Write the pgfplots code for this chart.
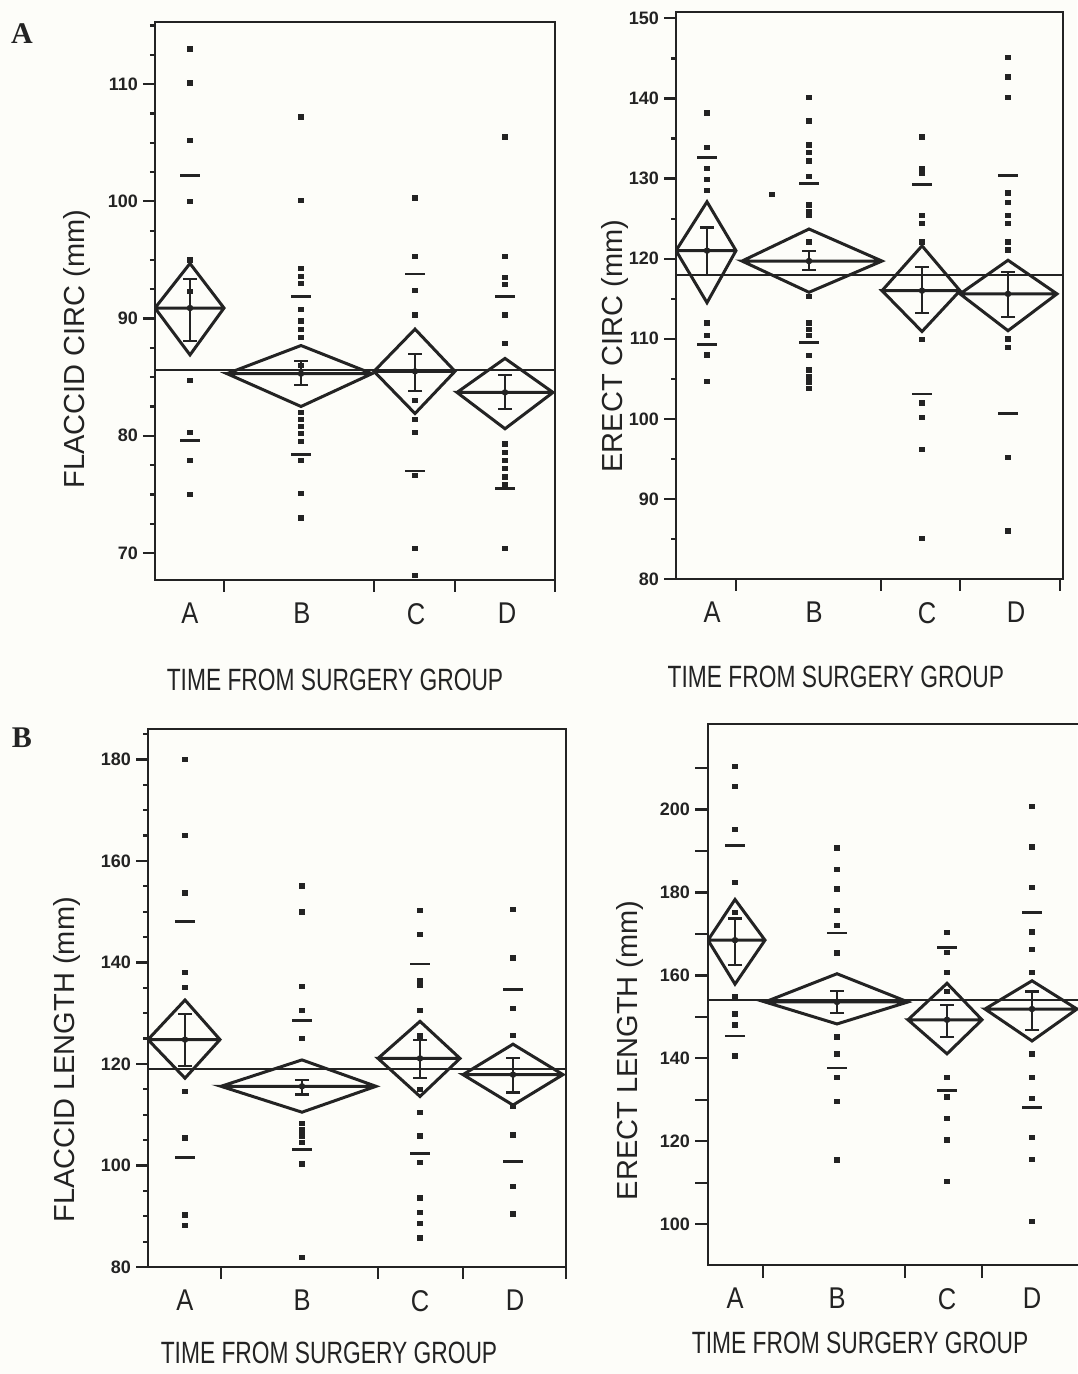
\documentclass[border=0pt]{standalone}
\usepackage{fontspec}
\setmainfont{Liberation Sans}
\newfontfamily\serifbf{Liberation Serif}
\usepackage{graphicx}
\usepackage{pgfplots}
\pgfplotsset{compat=1.18}

\definecolor{ink}{RGB}{35,35,35}
\definecolor{paper}{RGB}{253,253,249}

% one panel = one axis, placed in image pixels (1 px = 0.5pt)
\pgfplotsset{
  panel/.style={
    scale only axis, anchor=south west,
    axis line style={ink, line width=1.4pt},
    tick pos=left, tick align=outside,
    major tick length=6pt, minor tick length=2.5pt,
    tick style={ink, line width=1.1pt},
    yticklabel style={font=\fontsize{9}{9}\selectfont\bfseries, text=ink, xshift=1pt},
    /pgf/number format/assume math mode=true,
    xticklabels={},
    extra x tick style={major tick length=0pt,
      xticklabel style={font=\fontsize{15}{15}\selectfont, text=ink, yshift=-8pt}},
    extra x tick labels={\scalebox{0.85}[1]{A},\scalebox{0.85}[1]{B},\scalebox{0.85}[1]{C},\scalebox{0.85}[1]{D}},
  },
  xlab/.style 2 args={xlabel style={at={(axis description cs:#1,#2)}, anchor=center,
    font=\fontsize{15.4}{15.4}\selectfont, text=ink}},
  ylab/.style 2 args={ylabel style={at={(axis description cs:#1,#2)}, anchor=center, rotate=0,
    font=\fontsize{14.5}{14.5}\selectfont, text=ink}},
  pts/.style={only marks, mark=square*, mark size=1.1pt, ink},
  dia/.style={ink, line width=1.5pt, line join=miter, mark=none},
  gmean/.style={ink, line width=1.1pt, mark=none},
  sd/.style={only marks, mark=-, mark size=4.8pt, mark options={line width=1.4pt}, ink},
  ebar/.style={ink, only marks, mark=*, mark size=1.4pt,
    error bars/.cd, y dir=both, y explicit,
    error bar style={line width=1.1pt, ink},
    error mark options={rotate=90, line width=1.1pt, mark size=3.5pt, ink}},
}
\newcommand{\xlab}{\scalebox{0.74}[1]{TIME FROM SURGERY GROUP}}

\begin{document}
\begin{tikzpicture}
\fill[paper] (0,0) rectangle (538.5pt,687pt);

% ---------------- A: flaccid circumference
\begin{axis}[panel, at={(77.5pt,397pt)}, width=200pt, height=279pt,
  xmin=155, xmax=555, ymin=67.7, ymax=115.3,
  ytick={70,80,90,100,110},
  minor ytick={72.5,75,77.5,82.5,85,87.5,92.5,95,97.5,102.5,105,107.5,112.5,115},
  xtick={224,374,455,555}, extra x ticks={190,302,416,507},
  xlabel={\xlab}, ylabel={FLACCID CIRC (mm)},
  xlab={0.45}{-0.179}, ylab={-0.195}{0.414}]
\addplot[pts] coordinates {
 (190,113.0) (190,110.1) (190,105.2) (190,100.0) (190,95.0) (190,92.3) (190,84.7) (190,80.3) (190,77.9) (190,75.0)
 (301,107.2) (301,100.1) (301,94.3) (301,93.6) (301,93.0) (301,90.8) (301,89.8) (301,89.1) (301,88.4) (301,86.0)
 (301,82.0) (301,81.4) (301,80.8) (301,80.2) (301,79.5) (301,77.9) (301,75.1) (301,73.0)
 (415,100.3) (415,95.3) (415,92.4) (415,90.3) (415,83.0) (415,81.4) (415,80.3) (415,76.6) (415,70.4) (415,68.1)
 (505,105.5) (505,95.3) (505,93.5) (505,92.9) (505,90.3) (505,87.9) (505,79.3) (505,78.6) (505,77.9) (505,77.2)
 (505,76.5) (505,75.8) (505,70.4)};
\addplot[dia] coordinates {(155,90.9) (190,94.7) (224,90.9) (190,86.9) (155,90.9) (224,90.9)};
\addplot[dia] coordinates {(227,85.3) (301,87.7) (372,85.3) (301,82.5) (227,85.3) (372,85.3)};
\addplot[dia] coordinates {(374,85.5) (415,89.1) (455,85.5) (415,81.9) (374,85.5) (455,85.5)};
\addplot[dia] coordinates {(457,83.7) (505,86.6) (553,83.7) (505,80.6) (457,83.7) (553,83.7)};
\addplot[gmean] coordinates {(155,85.6) (555,85.6)};
\addplot[sd] coordinates {(190,102.2) (190,79.6) (301,91.9) (301,78.4) (415,93.8) (415,77.0) (505,91.9) (505,75.5)};
\addplot[ebar] coordinates {
 (190,90.9) += (0,2.5) -= (0,2.8)
 (301,85.3) += (0,1.1) -= (0,1.0)
 (415,85.5) += (0,1.5) -= (0,1.7)
 (505,83.7) += (0,1.5) -= (0,1.4)};
\end{axis}

% ---------------- A: erect circumference
\begin{axis}[panel, at={(338pt,397.5pt)}, width=193.5pt, height=283.5pt,
  xmin=676, xmax=1063, ymin=80, ymax=150.8,
  ytick={80,90,100,110,120,130,140,150},
  minor ytick={85,95,105,115,125,135,145},
  xtick={736,881,960,1060}, extra x ticks={712,814,927,1016},
  xlabel={\xlab}, ylabel={ERECT CIRC (mm)},
  xlab={0.413}{-0.173}, ylab={-0.158}{0.411}]
\addplot[pts] coordinates {
 (707,138.2) (707,133.9) (707,131.3) (707,129.9) (707,128.5) (707,112.0) (707,110.4) (707,108.0) (707,104.7)
 (772,128.0)
 (809,140.1) (809,137.2) (809,134.2) (809,133.3) (809,132.2) (809,130.3) (809,126.7) (809,125.9) (809,125.4)
 (809,122.1) (809,115.3) (809,112.0) (809,111.2) (809,110.4) (809,107.9) (809,106.1) (809,105.3) (809,104.6) (809,103.8)
 (922,135.2) (922,131.3) (922,130.7) (922,125.4) (922,124.4) (922,122.1) (922,109.9) (922,102.0) (922,100.2) (922,96.2) (922,85.1)
 (1008,145.1) (1008,142.7) (1008,140.1) (1008,128.2) (1008,127.0) (1008,125.4) (1008,124.4) (1008,122.1) (1008,121.1)
 (1008,110.0) (1008,108.9) (1008,95.2) (1008,86.0)};
\addplot[dia] coordinates {(676,121.0) (707,127.1) (736,121.0) (707,114.5) (676,121.0) (736,121.0)};
\addplot[dia] coordinates {(742,119.7) (809,123.7) (882,119.7) (809,115.8) (742,119.7) (882,119.7)};
\addplot[dia] coordinates {(882,116.0) (922,121.6) (960,116.0) (922,110.9) (882,116.0) (960,116.0)};
\addplot[dia] coordinates {(960,115.6) (1008,119.8) (1057,115.6) (1008,111.0) (960,115.6) (1057,115.6)};
\addplot[gmean] coordinates {(676,118.0) (1063,118.0)};
\addplot[sd] coordinates {(707,132.6) (707,109.3) (809,129.4) (809,109.5) (922,129.3) (922,103.1) (1008,130.4) (1008,100.7)};
\addplot[ebar] coordinates {
 (707,121.0) += (0,2.9) -= (0,3.0)
 (809,119.7) += (0,1.3) -= (0,1.1)
 (922,116.0) += (0,3.0) -= (0,2.8)
 (1008,115.6) += (0,2.7) -= (0,2.9)};
\end{axis}

% ---------------- B: flaccid length
\begin{axis}[panel, at={(74pt,53.5pt)}, width=209pt, height=269pt,
  xmin=148, xmax=566, ymin=80, ymax=186,
  ytick={80,100,120,140,160,180},
  minor ytick={85,90,95,105,110,115,125,130,135,145,150,155,165,170,175,185},
  xtick={221,378,463,566}, extra x ticks={185,302,420,515},
  xlabel={\xlab}, ylabel={FLACCID LENGTH (mm)},
  xlab={0.433}{-0.160}, ylab={-0.194}{0.385}]
\addplot[pts] coordinates {
 (185,180.0) (185,165.0) (185,153.7) (185,138.0) (185,135.1) (185,114.6) (185,105.4) (185,90.3) (185,88.2)
 (302,155.1) (302,150.0) (302,135.3) (302,130.6) (302,125.0) (302,108.3) (302,107.0) (302,105.8) (302,104.5) (302,100.3) (302,81.9)
 (420,150.3) (420,145.5) (420,136.5) (420,135.5) (420,130.6) (420,125.5) (420,115.0) (420,110.5) (420,105.8) (420,100.6)
 (420,93.6) (420,90.7) (420,88.6) (420,85.7)
 (513,150.5) (513,140.9) (513,131.0) (513,125.6) (513,111.6) (513,106.0) (513,95.9) (513,90.5)};
\addplot[dia] coordinates {(148,124.8) (185,132.6) (220,124.8) (185,117.2) (148,124.8) (220,124.8)};
\addplot[dia] coordinates {(221,115.6) (302,120.8) (376,115.6) (302,110.5) (221,115.6) (376,115.6)};
\addplot[dia] coordinates {(378,121.1) (420,128.4) (460,121.1) (420,113.6) (378,121.1) (460,121.1)};
\addplot[dia] coordinates {(463,117.9) (513,123.9) (563,117.9) (513,111.9) (463,117.9) (563,117.9)};
\addplot[gmean] coordinates {(148,119.0) (566,119.0)};
\addplot[sd] coordinates {(185,148.0) (185,101.6) (302,128.5) (302,103.1) (420,139.7) (420,102.3) (513,134.6) (513,100.8)};
\addplot[ebar] coordinates {
 (185,124.8) += (0,5.0) -= (0,5.2)
 (302,115.6) += (0,1.3) -= (0,1.6)
 (420,121.1) += (0,3.7) -= (0,3.9)
 (513,117.9) += (0,3.2) -= (0,3.5)};
\end{axis}

% ---------------- B: erect length
\begin{axis}[panel, at={(354pt,54.5pt)}, width=186pt, height=270.5pt,
  xmin=708, xmax=1080, ymin=90.2, ymax=220.6,
  major tick length=6.5pt, minor tick length=6.5pt,
  ytick={100,120,140,160,180,200},
  minor ytick={110,130,150,170,190,210},
  xtick={763,905,982}, extra x ticks={735,837,947,1032},
  xlabel={\xlab}, ylabel={ERECT LENGTH (mm)},
  xlab={0.409}{-0.144}, ylab={-0.210}{0.397}]
\addplot[pts] coordinates {
 (735,210.4) (735,205.5) (735,195.2) (735,182.4) (735,175.2) (735,155.0) (735,150.7) (735,148.1) (735,140.6)
 (837,190.7) (837,185.5) (837,180.9) (837,175.7) (837,172.1) (837,165.4) (837,145.2) (837,141.1) (837,135.4) (837,129.7) (837,115.5)
 (947,170.3) (947,165.6) (947,160.7) (947,156.1) (947,135.4) (947,130.7) (947,125.6) (947,120.4) (947,110.4)
 (1032,200.7) (1032,191.0) (1032,181.2) (1032,170.5) (1032,166.2) (1032,160.7) (1032,141.1) (1032,135.4) (1032,130.4)
 (1032,120.9) (1032,115.7) (1032,100.7)};
\addplot[dia] coordinates {(708,168.5) (735,178.3) (765,168.5) (735,157.9) (708,168.5) (765,168.5)};
\addplot[dia] coordinates {(765,153.6) (837,160.4) (908,153.6) (837,148.3) (765,153.6) (908,153.6)};
\addplot[dia] coordinates {(908,149.3) (947,158.1) (982,149.3) (947,141.1) (908,149.3) (982,149.3)};
\addplot[dia] coordinates {(985,151.9) (1032,158.7) (1077,151.9) (1032,144.2) (985,151.9) (1077,151.9)};
\addplot[gmean] coordinates {(708,154.0) (1080,154.0)};
\addplot[sd] coordinates {(735,191.4) (735,145.4) (837,170.2) (837,137.7) (947,166.7) (947,132.3) (1032,175.2) (1032,128.1)};
\addplot[ebar] coordinates {
 (735,168.5) += (0,5.2) -= (0,6.0)
 (837,153.6) += (0,2.7) -= (0,2.7)
 (947,149.3) += (0,3.5) -= (0,4.1)
 (1032,151.9) += (0,4.2) -= (0,5.1)};
\end{axis}

\node[font=\serifbf\bfseries\fontsize{15}{15}\selectfont, text=ink] at (11pt,670pt) {A};
\node[font=\serifbf\bfseries\fontsize{15}{15}\selectfont, text=ink] at (11pt,318pt) {B};

\pgfresetboundingbox
\path[use as bounding box] (0,0) rectangle (538.5pt,687pt);
\end{tikzpicture}
\end{document}
